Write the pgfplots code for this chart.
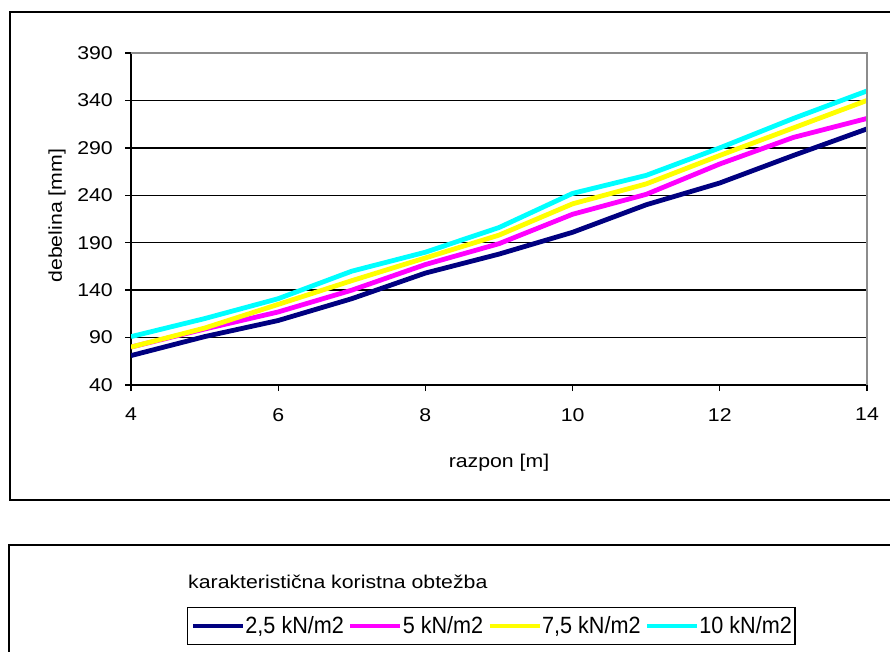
\documentclass[border=0pt]{standalone}
\usepackage{pgfplots}
\pgfplotsset{compat=1.18}
\usepackage{fontspec}
\setmainfont{Liberation Sans}[FakeStretch=1.15]
\newfontfamily\legfont{Liberation Sans}[FakeStretch=0.92]
\definecolor{cNavy}{HTML}{000080}
\definecolor{cMag}{HTML}{FF00FF}
\definecolor{cYel}{HTML}{FFFF00}
\definecolor{cCya}{HTML}{00FFFF}
\definecolor{cGray}{HTML}{8C8C8C}
\begin{document}
\begin{tikzpicture}
\useasboundingbox (0pt,0pt) rectangle (890pt,651pt);
\clip (0pt,0pt) rectangle (890pt,651pt);
\fill[white] (0pt,0pt) rectangle (890pt,651pt);
\draw[line width=2pt] (10pt,151pt) rectangle (905pt,639pt);
\draw[line width=1.6pt] (9pt,-10pt) rectangle (905pt,106pt);
\node[anchor=base west, inner sep=0pt, font=\fontsize{18.5}{22}\selectfont] at (188pt,63pt) {karakteristična koristna obtežba};
\begin{axis}[
  at={(131pt,266pt)}, anchor=south west,
  scale only axis, width=736pt, height=332pt,
  xmin=4, xmax=14, ymin=40, ymax=390,
  xtick={4,6,8,10,12,14}, ytick={40,90,...,390},
  axis lines*=left,
  axis line style={-, black, line width=1.5pt},
  ymajorgrids, major grid style={black, line width=1.4pt},
  tick align=outside, major tick length=6pt,
  major tick style={black, line width=1.3pt},
  /pgf/number format/assume math mode=true,
  ticklabel style={font=\fontsize{18.5}{22}\selectfont},
  yticklabel style={inner sep=0pt, anchor=east, xshift=-12pt},
  xticklabel style={inner sep=0pt, anchor=north, yshift=-17pt},
  xlabel={razpon [m]}, ylabel={debelina [mm]},
  label style={font=\fontsize{18.5}{22}\selectfont},
  xlabel style={at={(axis description cs:0.5,0)}, anchor=base, inner sep=0pt, yshift=-82pt},
  ylabel style={at={(axis description cs:-0.0938,0.51)}, anchor=base, inner sep=0pt},
  every axis plot/.append style={line width=4.8pt, line join=round},
  legend columns=4,
  legend style={at={(axis description cs:0.0761,-0.6687)}, anchor=north west,
    draw=black, line width=1.3pt, inner xsep=3pt, inner ysep=9pt,
    font=\legfont\fontsize{23.5}{27}\selectfont,
    nodes={inner sep=0pt, anchor=west},
    /tikz/every odd column/.append style={column sep=0pt},
    /tikz/every even column/.append style={column sep=4pt}},
  legend image code/.code={\draw[#1, line width=4.8pt] (0pt,0pt) -- (50pt,0pt);},
  after end axis/.code={\draw[cGray, line width=1.5pt] (rel axis cs:0,1) -- (rel axis cs:1,1) -- (rel axis cs:1,0);},
]
\addplot[cNavy] coordinates {(4,71) (5,91) (6,108) (7,131) (8,158) (9,178) (10,201) (11,230) (12,253) (13,282) (14,310)};
\addlegendentry{2,5 kN/m2}
\addplot[cMag] coordinates {(4,80) (5,99) (6,117) (7,140) (8,167) (9,189) (10,220) (11,241) (12,273) (13,301) (14,321)};
\addlegendentry{5 kN/m2}
\addplot[cYel] coordinates {(4,80) (5,100) (6,125) (7,150) (8,174) (9,198) (10,231) (11,252) (12,282) (13,311) (14,340)};
\addlegendentry{7,5 kN/m2}
\addplot[cCya] coordinates {(4,91) (5,110) (6,131) (7,160) (8,180) (9,206) (10,242) (11,261) (12,290) (13,321) (14,350)};
\addlegendentry{10 kN/m2}
\end{axis}
\end{tikzpicture}
\end{document}
